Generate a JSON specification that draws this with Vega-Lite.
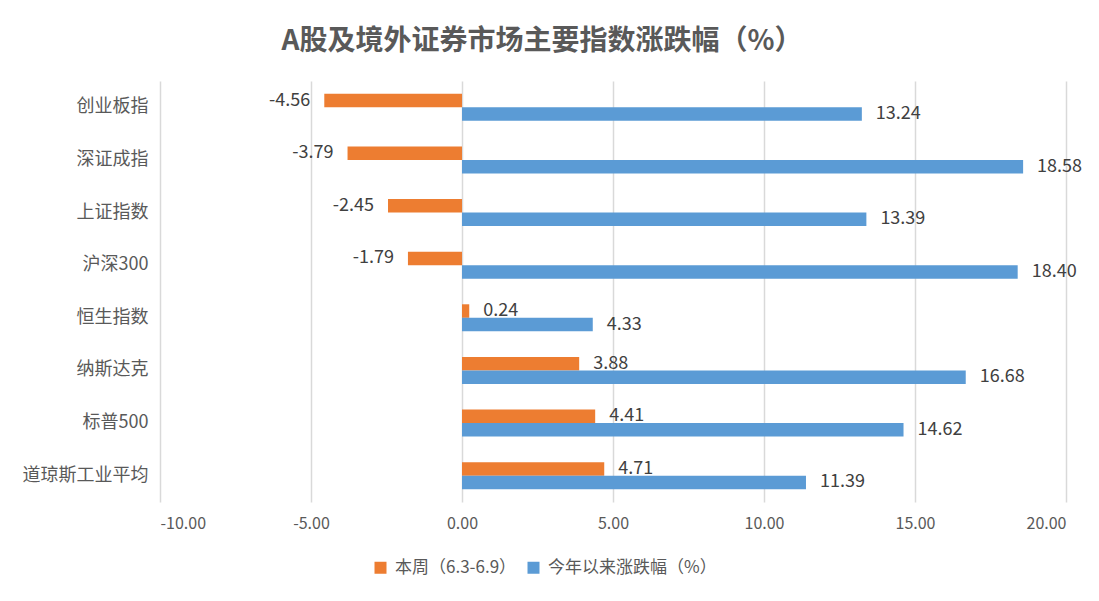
{
  "$schema": "https://vega.github.io/schema/vega-lite/v6.json",
  "width": 906,
  "height": 421,
  "autosize": {"type": "none"},
  "padding": {"left": 160, "top": 81, "right": 33, "bottom": 99},
  "background": "white",
  "config": {
    "view": {"stroke": null},
    "font": "Noto Sans CJK SC",
    "locale": {"number": {"decimal": ".", "thousands": ",", "grouping": [3], "currency": ["", ""], "minus": "-"}}
  },
  "title": {
    "text": "A股及境外证券市场主要指数涨跌幅（%）",
    "fontSize": 28,
    "font": "Noto Sans CJK SC",
    "fontWeight": "bold",
    "color": "#595959",
    "anchor": "middle",
    "dx": -71,
    "offset": 25
  },
  "data": {
    "values": [
      {"name": "创业板指", "series": "本周（6.3-6.9）", "value": -4.56},
      {"name": "深证成指", "series": "本周（6.3-6.9）", "value": -3.79},
      {"name": "上证指数", "series": "本周（6.3-6.9）", "value": -2.45},
      {"name": "沪深300", "series": "本周（6.3-6.9）", "value": -1.79},
      {"name": "恒生指数", "series": "本周（6.3-6.9）", "value": 0.24},
      {"name": "纳斯达克", "series": "本周（6.3-6.9）", "value": 3.88},
      {"name": "标普500", "series": "本周（6.3-6.9）", "value": 4.41},
      {"name": "道琼斯工业平均", "series": "本周（6.3-6.9）", "value": 4.71},
      {"name": "创业板指", "series": "今年以来涨跌幅（%）", "value": 13.24},
      {"name": "深证成指", "series": "今年以来涨跌幅（%）", "value": 18.58},
      {"name": "上证指数", "series": "今年以来涨跌幅（%）", "value": 13.39},
      {"name": "沪深300", "series": "今年以来涨跌幅（%）", "value": 18.40},
      {"name": "恒生指数", "series": "今年以来涨跌幅（%）", "value": 4.33},
      {"name": "纳斯达克", "series": "今年以来涨跌幅（%）", "value": 16.68},
      {"name": "标普500", "series": "今年以来涨跌幅（%）", "value": 14.62},
      {"name": "道琼斯工业平均", "series": "今年以来涨跌幅（%）", "value": 11.39}
    ]
  },
  "encoding": {
    "y": {
      "field": "name",
      "type": "nominal",
      "sort": ["创业板指", "深证成指", "上证指数", "沪深300", "恒生指数", "纳斯达克", "标普500", "道琼斯工业平均"],
      "scale": {"paddingInner": 0.486, "paddingOuter": 0.243},
      "axis": {
        "title": null,
        "domain": false,
        "ticks": false,
        "grid": false,
        "labelFontSize": 18,
        "labelColor": "#595959",
        "labelPadding": 12,
        "labelLimit": 300,
        "labelFont": "Noto Sans CJK SC"
      }
    },
    "yOffset": {
      "field": "series",
      "sort": ["本周（6.3-6.9）", "今年以来涨跌幅（%）"],
      "scale": {"paddingInner": 0, "paddingOuter": 0}
    },
    "x": {
      "field": "value",
      "type": "quantitative",
      "scale": {"domain": [-10, 20], "nice": false, "zero": false},
      "axis": {
        "title": null,
        "values": [-10, -5, 0, 5, 10, 15, 20],
        "format": ".2f",
        "domain": false,
        "ticks": false,
        "grid": true,
        "gridColor": "#d9d9d9",
        "gridWidth": 1.5,
        "labelFontSize": 16,
        "labelColor": "#595959",
        "labelPadding": 13,
        "labelFont": "Noto Sans CJK SC"
      }
    }
  },
  "layer": [
    {
      "mark": {"type": "bar"},
      "encoding": {
        "color": {
          "field": "series",
          "type": "nominal",
          "sort": ["本周（6.3-6.9）", "今年以来涨跌幅（%）"],
          "scale": {"domain": ["本周（6.3-6.9）", "今年以来涨跌幅（%）"], "range": ["#ED7D31", "#5B9BD5"]},
          "legend": {
            "title": null,
            "orient": "none",
            "direction": "horizontal",
            "legendX": 212,
            "legendY": 478,
            "symbolType": "square",
            "symbolSize": 144,
            "symbolStrokeWidth": 0,
            "labelFontSize": 17,
            "labelColor": "#595959",
            "labelFont": "Noto Sans CJK SC",
            "labelLimit": 400,
            "labelOffset": 6,
            "columnPadding": 8
          }
        }
      }
    },
    {
      "transform": [{"filter": "datum.value < 0"}],
      "mark": {"type": "text", "align": "right", "baseline": "middle", "dx": -14, "fontSize": 18, "color": "#404040", "font": "Noto Sans CJK SC"},
      "encoding": {"text": {"field": "value", "type": "quantitative", "format": ".2f"}}
    },
    {
      "transform": [{"filter": "datum.value >= 0"}],
      "mark": {"type": "text", "align": "left", "baseline": "middle", "dx": 14, "fontSize": 18, "color": "#404040", "font": "Noto Sans CJK SC"},
      "encoding": {"text": {"field": "value", "type": "quantitative", "format": ".2f"}}
    }
  ]
}
